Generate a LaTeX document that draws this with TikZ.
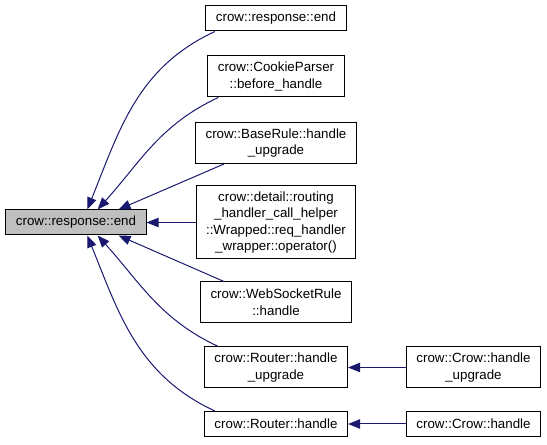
\documentclass[tikz,border=0pt]{standalone}
\usepackage{fontspec}
\setmainfont{Liberation Sans}
\usetikzlibrary{arrows.meta}
\definecolor{edgeblue}{RGB}{25,25,112}
\definecolor{rootgrey}{RGB}{191,191,191}
\tikzset{
  fn/.style    = {draw=black, fill=white, line width=0.75pt, align=center,
                  font=\fontsize{10}{12.4}\selectfont, inner xsep=7.5pt,
                  inner ysep=1pt, minimum height=18.75pt},
  fn2/.style   = {fn, minimum height=30.75pt},   % two text lines
  fn4/.style   = {fn, minimum height=54.75pt},   % four text lines
  froot/.style = {fn, fill=rootgrey},
  call/.style  = {draw=edgeblue, line width=0.75pt,
                  -{Triangle[length=9pt, width=7pt]}},
}
\begin{document}
\begin{tikzpicture}[x=0.75pt, y=0.75pt]
    \useasboundingbox (0,0) rectangle (547,445);

    \node[froot] (end) at (76, 222.5) {crow::response::end};

    \node[fn]  (rend)   at (276, 426.5) {crow::response::end};
    \node[fn2] (cookie) at (276, 368.5) {crow::CookieParser\\::before\_handle};
    \node[fn2] (bupg)   at (276, 302)   {crow::BaseRule::handle\\\_upgrade};
    \node[fn4] (wrap)   at (276, 222.5) {crow::detail::routing\\\_handler\_call\_helper\\::Wrapped::req\_handler\\\_wrapper::operator()};
    \node[fn2] (wsh)    at (276, 142.5) {crow::WebSocketRule\\::handle};
    \node[fn2] (rupg)   at (276, 77.5)  {crow::Router::handle\\\_upgrade};
    \node[fn]  (rh)     at (276, 21)    {crow::Router::handle};

    \node[fn2] (cupg)   at (473.5, 77.5) {crow::Crow::handle\\\_upgrade};
    \node[fn]  (ch)     at (473.5, 21)   {crow::Crow::handle};

    \draw[call] (rend.192)   to[out=205, in=68]  (end.49);
    \draw[call] (cookie.200) to[out=205, in=48]  (end.31);
    \draw[call] (bupg.202)   -- (end.17);
    \draw[call] (wrap.west)  -- (end.east);
    \draw[call] (wsh.158)    -- (end.-17);
    \draw[call] (rupg.160)   to[out=155, in=-48] (end.-31);
    \draw[call] (rh.168)     to[out=155, in=-68] (end.-49);

    \draw[call] (cupg.west) -- (rupg.east);
    \draw[call] (ch.west)   -- (rh.east);
  \end{tikzpicture}
\end{document}
